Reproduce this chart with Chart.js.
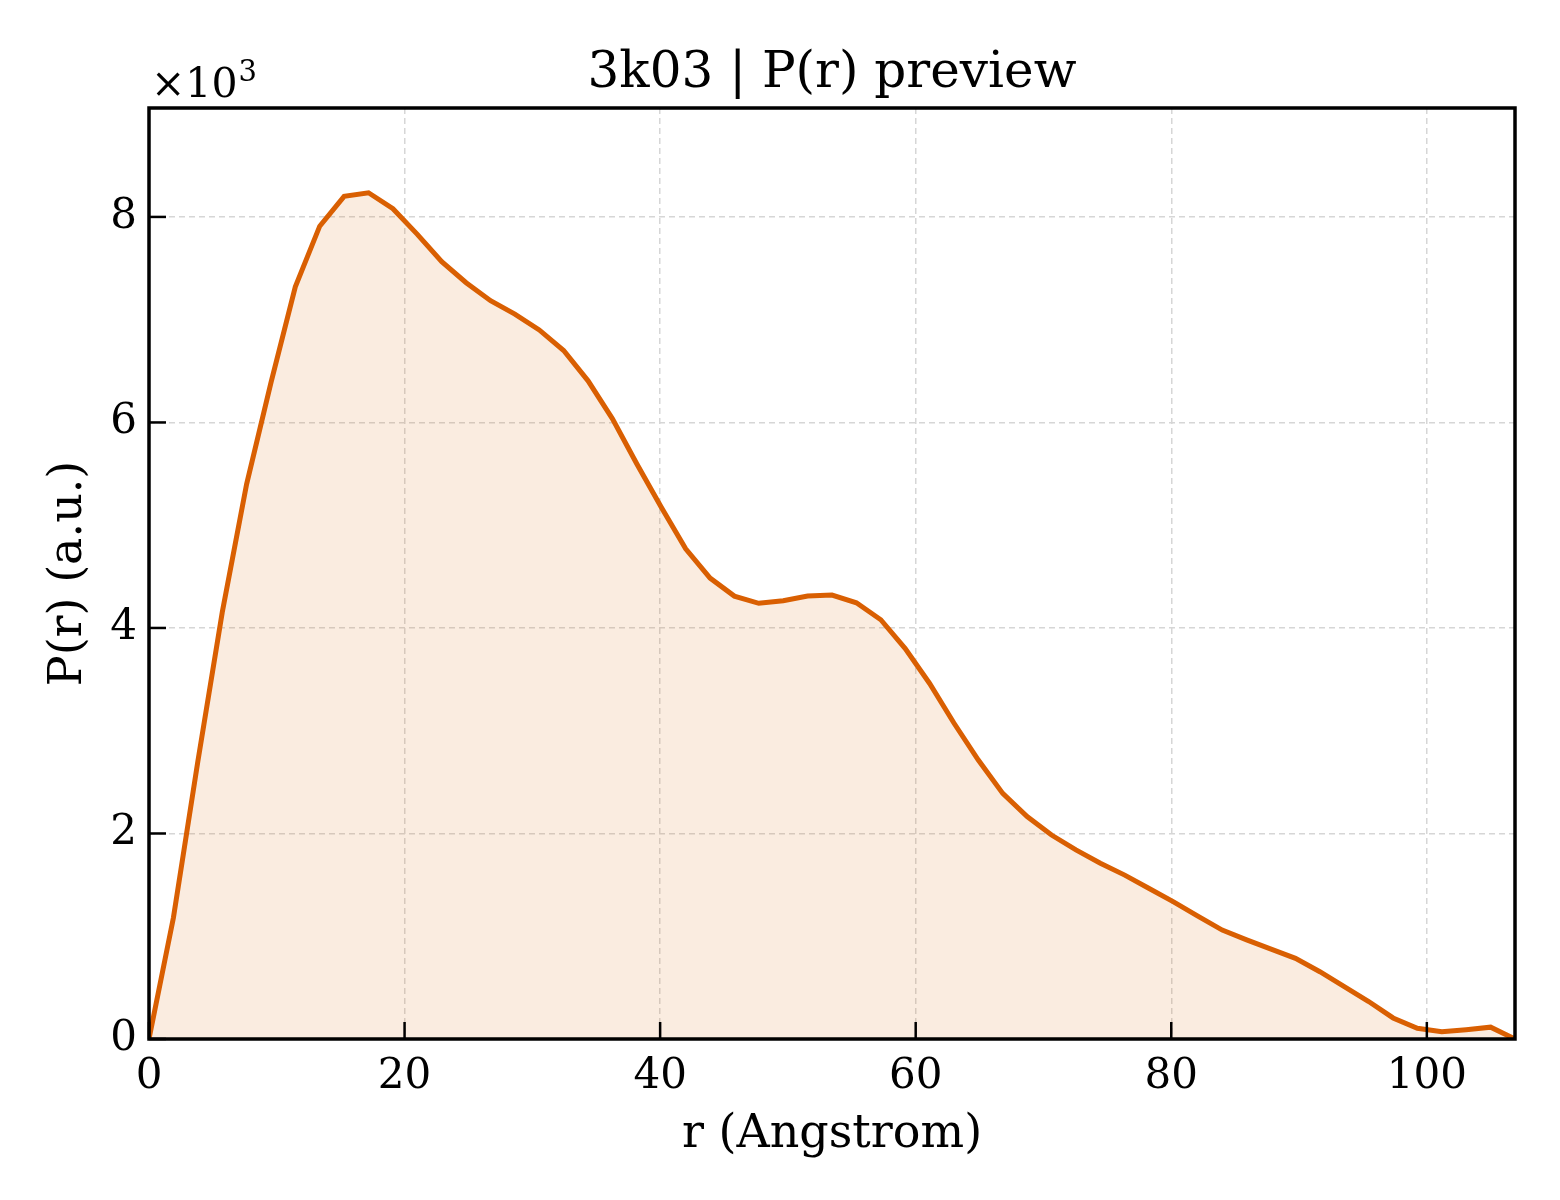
<!DOCTYPE html>
<html>
<head>
<meta charset="utf-8">
<script src="https://cdn.jsdelivr.net/npm/chart.js@4.4.1/dist/chart.umd.min.js"></script>
<style>
  html, body { margin: 0; padding: 0; background: #ffffff; }
  #wrap { width: 1560px; height: 1200px; }
</style>
</head>
<body>
<div id="wrap"><canvas id="pr" width="1560" height="1200"></canvas></div>
<script>
// r grid (Angstrom) and P(r) values read from the preview
const rValues = [
  0, 1.91, 3.82, 5.73, 7.64, 9.55, 11.45, 13.36, 15.27, 17.18,
  19.09, 21.00, 22.91, 24.82, 26.73, 28.63, 30.54, 32.45, 34.36, 36.27,
  38.18, 40.09, 42.00, 43.91, 45.81, 47.72, 49.63, 51.54, 53.45, 55.36,
  57.27, 59.18, 61.09, 62.99, 64.90, 66.81, 68.72, 70.63, 72.54, 74.45,
  76.36, 78.27, 80.18, 82.08, 83.99, 85.90, 87.81, 89.72, 91.63, 93.54,
  95.45, 97.36, 99.26, 101.17, 103.08, 104.99, 106.90
];
const prValues = [
  0, 1180, 2700, 4150, 5400, 6390, 7320, 7910, 8200, 8235,
  8080, 7830, 7565, 7360, 7185, 7055, 6900, 6700, 6405, 6035,
  5595, 5175, 4770, 4485, 4310, 4240, 4265, 4310, 4320, 4245,
  4080, 3800, 3460, 3075, 2715, 2390, 2165, 1985, 1840, 1710,
  1595, 1465, 1335, 1195, 1060, 965, 875, 785, 655, 510,
  365, 205, 105, 70, 90, 115, 0
];
const xTicks = [0, 20, 40, 60, 80, 100];
const yTicks = [0, 2000, 4000, 6000, 8000];
const chartTitle = '3k03 | P(r) preview';
const xLabel = 'r (Angstrom)';
const yLabel = 'P(r) (a.u.)';

const SERIF = "'DejaVu Serif', 'Liberation Serif', serif";
const lineColor = '#d95f02';

const points = rValues.map((r, i) => ({ x: r, y: prValues[i] }));

// matplotlib-ish frame, inward ticks, title and offset text
const mplDecor = {
  id: 'mplDecor',
  afterDraw(chart) {
    const { ctx, chartArea: a, scales } = chart;
    ctx.save();
    ctx.strokeStyle = '#000';
    ctx.lineWidth = 2.5;
    const tl = 17;
    xTicks.forEach(v => {
      const px = scales.x.getPixelForValue(v);
      ctx.beginPath();
      ctx.moveTo(px, a.bottom);
      ctx.lineTo(px, a.bottom - tl);
      ctx.stroke();
    });
    yTicks.forEach(v => {
      const py = scales.y.getPixelForValue(v);
      ctx.beginPath();
      ctx.moveTo(a.left, py);
      ctx.lineTo(a.left + tl, py);
      ctx.stroke();
    });
    ctx.lineWidth = 3.5;
    ctx.strokeRect(a.left, a.top, a.right - a.left, a.bottom - a.top);

    ctx.fillStyle = '#000';
    ctx.font = '50px ' + SERIF;
    ctx.textAlign = 'center';
    ctx.textBaseline = 'alphabetic';
    ctx.fillText(chartTitle, (a.left + a.right) / 2, 87);

    ctx.textAlign = 'left';
    ctx.font = '41px ' + SERIF;
    ctx.fillText('\u00d710', a.left + 2, 97);
    const w = ctx.measureText('\u00d710').width;
    ctx.font = '29px ' + SERIF;
    ctx.fillText('3', a.left + 2 + w + 1, 81);
    ctx.restore();
  }
};

new Chart(document.getElementById('pr'), {
  type: 'line',
  data: {
    datasets: [{
      data: points,
      borderColor: lineColor,
      borderWidth: 5,
      backgroundColor: 'rgba(217, 95, 2, 0.12)',
      fill: 'origin',
      pointRadius: 0,
      tension: 0
    }]
  },
  options: {
    responsive: false,
    animation: false,
    devicePixelRatio: 1,
    layout: { padding: { left: 0, right: 45, top: 108, bottom: 0 } },
    plugins: {
      legend: { display: false },
      tooltip: { enabled: false },
      title: { display: false }
    },
    scales: {
      x: {
        type: 'linear',
        min: 0,
        max: 106.9,
        afterFit: s => { s.height = 161; },
        afterBuildTicks: s => { s.ticks = xTicks.map(v => ({ value: v })); },
        ticks: {
          includeBounds: false,
          padding: 13,
          color: '#000',
          font: { family: SERIF, size: 42 },
          maxRotation: 0
        },
        grid: { color: '#d6d6d6', lineWidth: 1.5, drawTicks: false },
        border: { display: false, dash: [6, 4] },
        title: {
          display: true,
          text: xLabel,
          color: '#000',
          font: { family: SERIF, size: 46 },
          padding: { top: 0, bottom: 37 }
        }
      },
      y: {
        type: 'linear',
        min: 0,
        max: 9060,
        afterFit: s => { s.width = 149; },
        afterBuildTicks: s => { s.ticks = yTicks.map(v => ({ value: v })); },
        ticks: {
          includeBounds: false,
          padding: 12,
          color: '#000',
          font: { family: SERIF, size: 42 },
          callback: v => String(v / 1000)
        },
        grid: { color: '#d6d6d6', lineWidth: 1.5, drawTicks: false },
        border: { display: false, dash: [6, 4] },
        title: {
          display: true,
          text: yLabel,
          color: '#000',
          font: { family: SERIF, size: 46 },
          padding: { top: 41, bottom: 0 }
        }
      }
    }
  },
  plugins: [mplDecor]
});
</script>
</body>
</html>
